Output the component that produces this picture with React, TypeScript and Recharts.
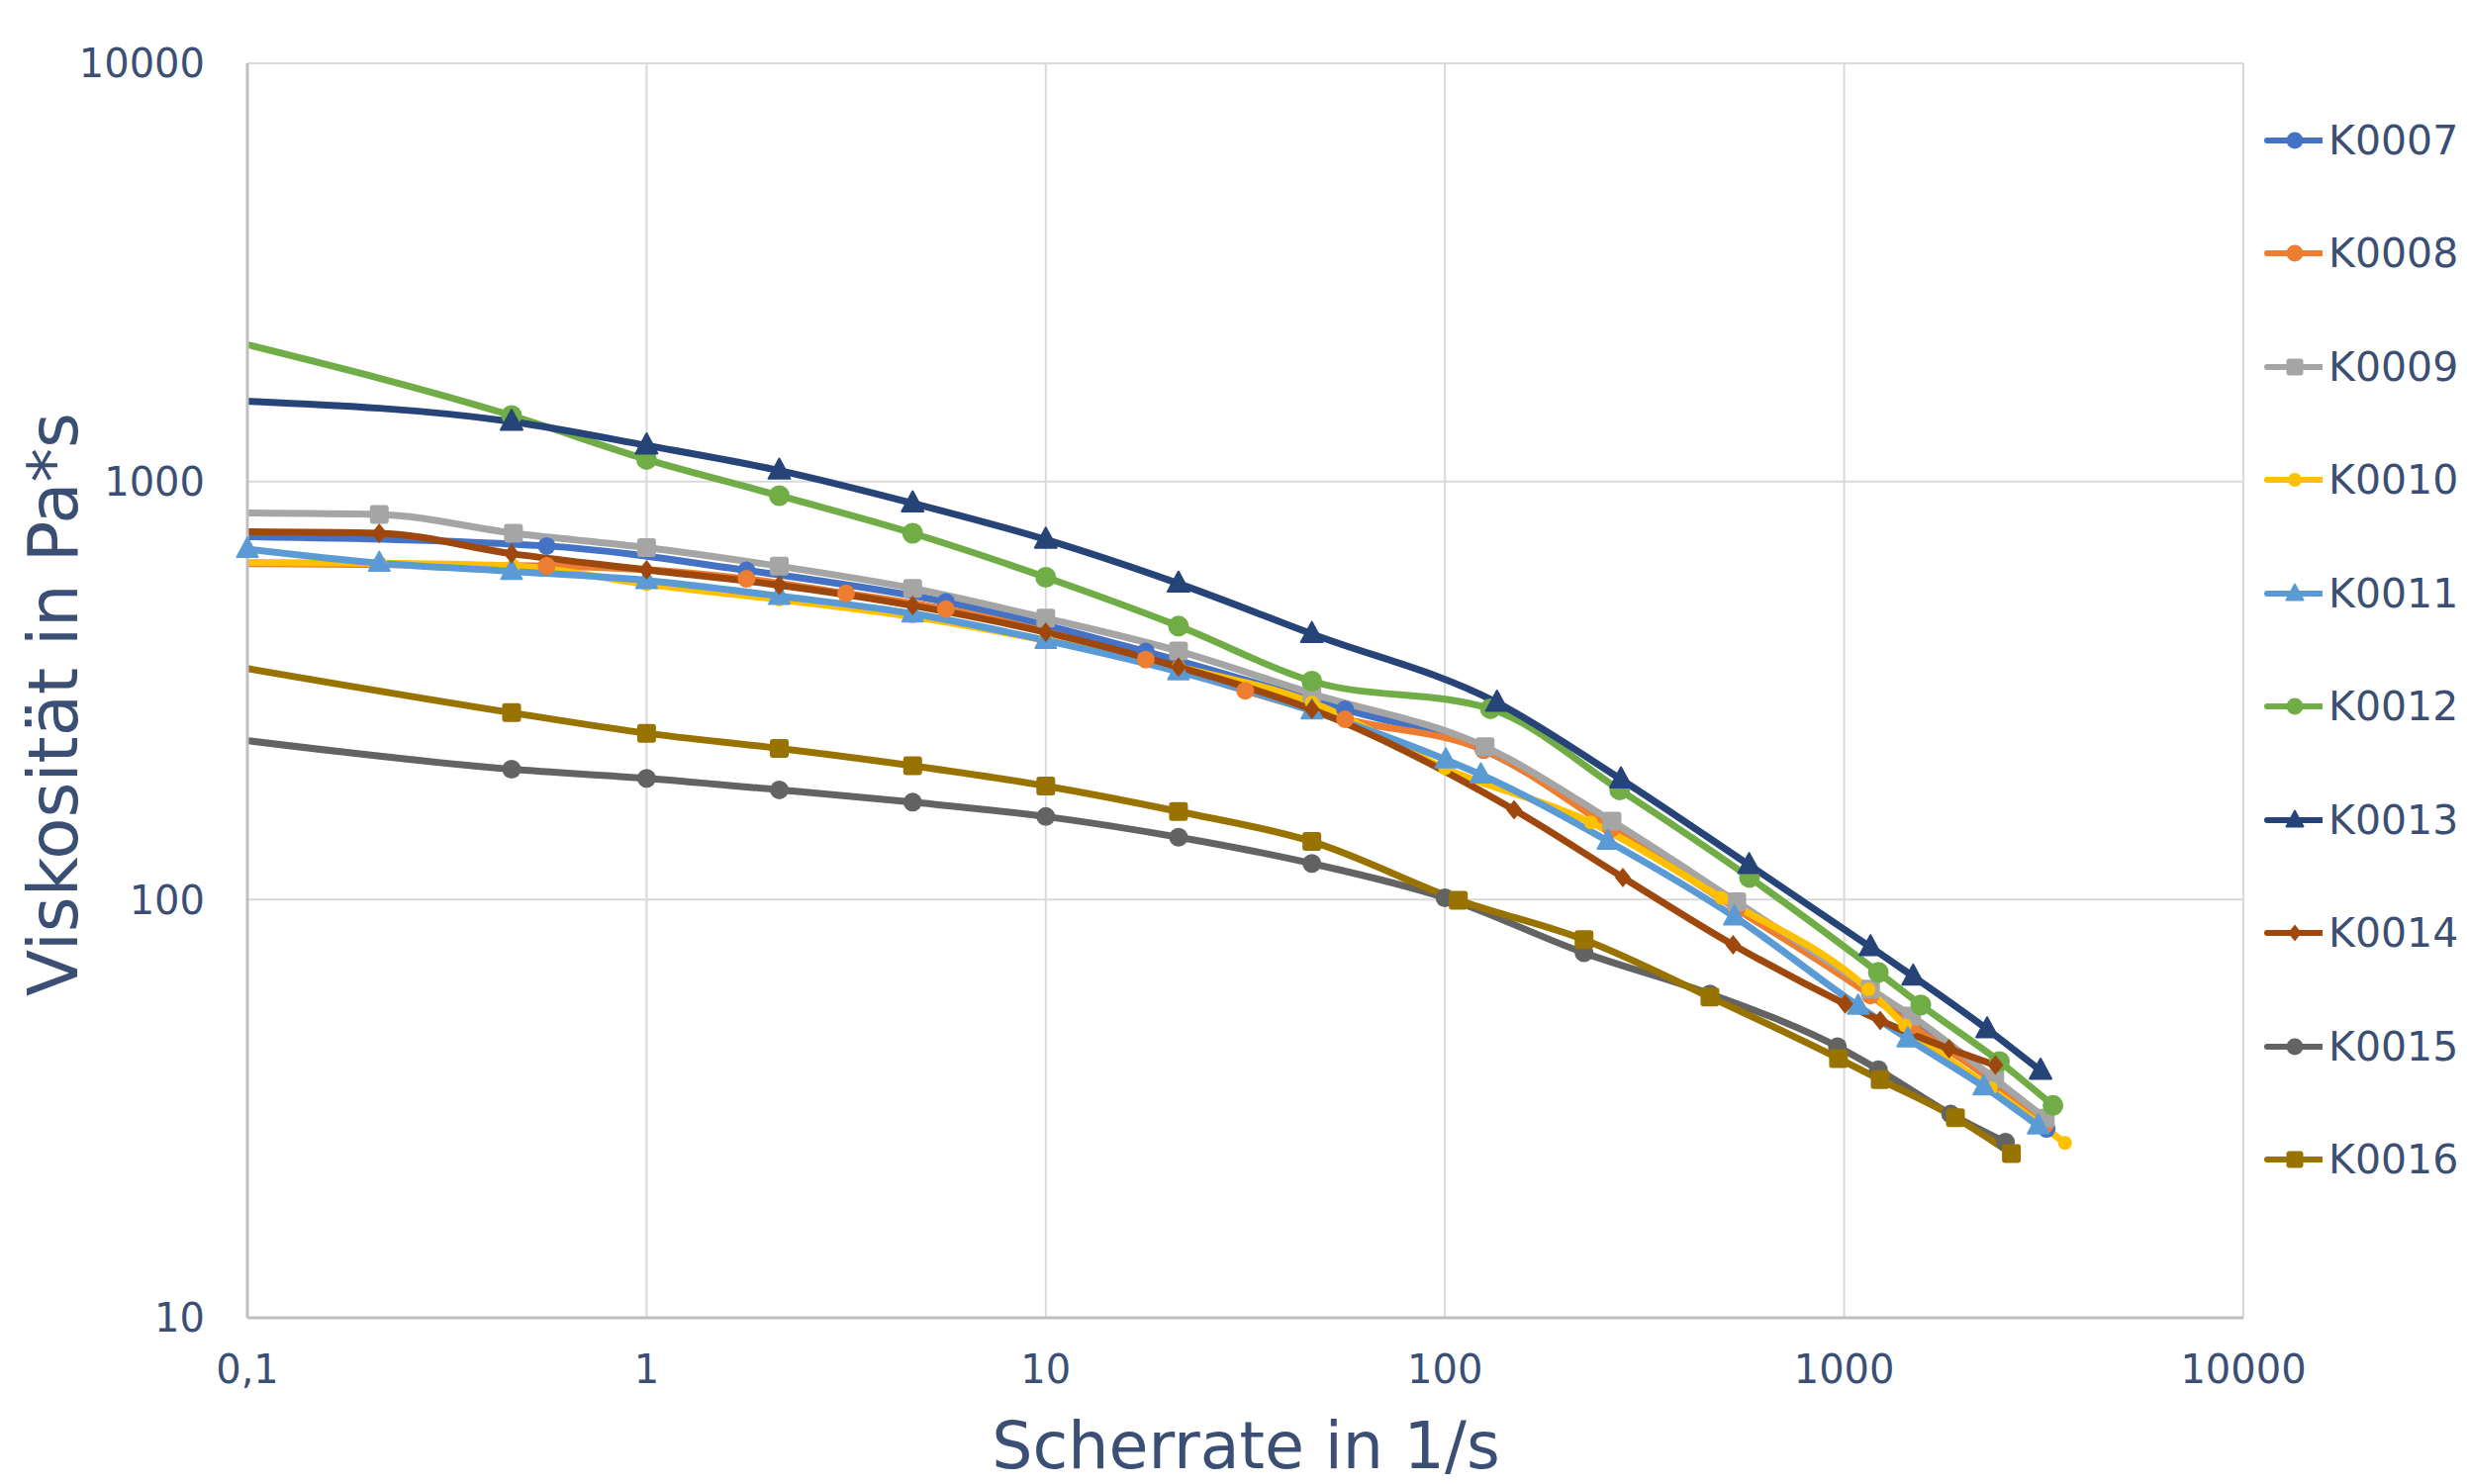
import React from 'react';
import { LineChart, Line, XAxis, YAxis, CartesianGrid, Legend, Label } from 'recharts';

// axis ticks
const xTicks = [0.1, 1, 10, 100, 1000, 10000];
const yTicks = [10, 100, 1000, 10000];

// shear rate (1/s) and viscosity (Pa*s) per sample
const k0007X = [0.1, 0.562, 1.78, 5.62, 17.8, 56.2, 125, 262, 538, 1164, 1475, 2383, 3215];
const k0007Y = [738, 701, 613, 515, 392, 285, 228, 150, 96, 60, 50.5, 36.5, 28.3];

const k0008X = [0.1, 0.562, 1.78, 3.16, 5.62, 17.8, 31.6, 56.2, 125, 261, 538, 1164, 1475, 2383, 3190];
const k0008Y = [636, 628, 585, 540, 495, 375, 316, 270, 228, 148, 95, 59, 50, 36.5, 29];

const k0009X = [0.1, 0.214, 0.464, 1, 2.15, 4.64, 10, 21.5, 46.4, 126, 262, 538, 1164, 1475, 2383, 3190];
const k0009Y = [841, 834, 752, 695, 627, 555, 471, 393, 311, 232, 154, 98.8, 61.1, 52.7, 37.3, 30];

const k0010X = [0.1, 0.215, 0.464, 1, 2.15, 4.64, 10, 21.5, 46.4, 100, 232, 492, 1150, 1420, 2330, 3574];
const k0010Y = [640, 638, 628, 568, 522, 475, 417, 360, 296, 206, 153, 101, 61, 50, 35.4, 26.2];

const k0011X = [0.1, 0.214, 0.459, 1, 2.15, 4.64, 10, 21.5, 46.4, 100.5, 123, 256, 531, 1084, 1443, 2238, 3062];
const k0011Y = [689, 638, 610, 580, 532, 483, 417, 351, 283, 216, 199, 138, 91, 55.7, 46.5, 35.7, 28.8];

const k0012X = [0.1, 0.459, 1, 2.15, 4.64, 10, 21.5, 46.4, 130, 274, 579, 1218, 1556, 2449, 3335];
const k0012Y = [2124, 1438, 1129, 925, 752, 590, 451, 333, 286, 183, 113, 67, 56, 41, 32.2];

const k0013X = [0.1, 0.459, 1, 2.15, 4.64, 10, 21.5, 46.4, 135, 276, 578, 1164, 1489, 2281, 3105];
const k0013Y = [1556, 1390, 1220, 1062, 887, 726, 570, 432, 296, 194, 121, 77, 65.5, 49, 39];

const k0014X = [0.1, 0.214, 0.459, 1, 2.15, 4.64, 10, 21.5, 46.4, 149, 279, 527, 1006, 1231, 1832, 2393];
const k0014Y = [758, 752, 672, 615, 565, 505, 436, 360, 285, 164, 113, 78, 56.3, 51.4, 44, 40.2];

const k0015X = [0.1, 0.459, 1, 2.15, 4.64, 10, 21.5, 46.4, 100, 223, 461, 962, 1218, 1848, 2536];
const k0015Y = [240, 205, 195, 183, 171, 158, 141, 122, 101, 74.6, 59.5, 44.5, 39.2, 30.7, 26.3];

const k0016X = [0.1, 0.459, 1, 2.15, 4.64, 10, 21.5, 46.4, 108, 223, 461, 968, 1231, 1900, 2624];
const k0016Y = [357, 280, 250, 230, 209, 187, 162.5, 137.7, 99.7, 80.2, 58.5, 41.7, 37.1, 30.1, 24.7];

type Shape = 'circle' | 'square' | 'triangle' | 'diamond';

const series: { name: string; color: string; shape: Shape; size: number; firstDot: boolean; x: number[]; y: number[] }[] = [
  { name: 'K0007', color: '#4472C4', shape: 'circle', size: 18, firstDot: false, x: k0007X, y: k0007Y },
  { name: 'K0008', color: '#ED7D31', shape: 'circle', size: 18, firstDot: false, x: k0008X, y: k0008Y },
  { name: 'K0009', color: '#A5A5A5', shape: 'square', size: 19, firstDot: false, x: k0009X, y: k0009Y },
  { name: 'K0010', color: '#FFC000', shape: 'circle', size: 14, firstDot: false, x: k0010X, y: k0010Y },
  { name: 'K0011', color: '#5B9BD5', shape: 'triangle', size: 21, firstDot: true, x: k0011X, y: k0011Y },
  { name: 'K0012', color: '#70AD47', shape: 'circle', size: 21, firstDot: false, x: k0012X, y: k0012Y },
  { name: 'K0013', color: '#264478', shape: 'triangle', size: 22, firstDot: false, x: k0013X, y: k0013Y },
  { name: 'K0014', color: '#9E480E', shape: 'diamond', size: 20, firstDot: false, x: k0014X, y: k0014Y },
  { name: 'K0015', color: '#636363', shape: 'circle', size: 19, firstDot: false, x: k0015X, y: k0015Y },
  { name: 'K0016', color: '#997300', shape: 'square', size: 19, firstDot: false, x: k0016X, y: k0016Y },
];

const textColor = '#3B4F74';
const font = '"DejaVu Sans", Verdana, sans-serif';

const Marker = ({ cx, cy, shape, size, color }: { cx: number; cy: number; shape: Shape; size: number; color: string }) => {
  const r = size / 2;
  if (shape === 'square') {
    return <rect x={cx - r} y={cy - r} width={size} height={size} rx={3} fill={color} />;
  }
  if (shape === 'triangle') {
    return <polygon points={`${cx},${cy - r * 1.1} ${cx + r},${cy + r * 0.75} ${cx - r},${cy + r * 0.75}`} fill={color} stroke={color} strokeWidth={2} strokeLinejoin="round" />;
  }
  if (shape === 'diamond') {
    return <polygon points={`${cx},${cy - r} ${cx + r * 0.8},${cy} ${cx},${cy + r} ${cx - r * 0.8},${cy}`} fill={color} />;
  }
  return <circle cx={cx} cy={cy} r={r} fill={color} />;
};

const LegendBox = () => (
  <div style={{ fontFamily: font }}>
    {series.map((s) => (
      <div key={s.name} style={{ height: 114.5, display: 'flex', alignItems: 'center', whiteSpace: 'nowrap' }}>
        <svg width={62} height={26}>
          <line x1={6} y1={13} x2={62} y2={13} stroke={s.color} strokeWidth={6} strokeLinecap="round" />
          <Marker cx={34} cy={13} shape={s.shape} size={Math.min(s.size, 17)} color={s.color} />
        </svg>
        <span style={{ fontSize: 41, color: textColor, marginLeft: 6 }}>{s.name}</span>
      </div>
    ))}
  </div>
);

const App: React.FC = () => {
  return (
    <div style={{ position: 'absolute', left: 0, top: 0, fontFamily: font, background: '#fff' }}>
      <LineChart width={2493} height={1500} margin={{ top: 64, right: 226, bottom: 0, left: 0 }}>
        <CartesianGrid stroke="#D9D9D9" strokeWidth={2} />
        <XAxis
          type="number"
          dataKey="x"
          scale="log"
          domain={[0.1, 10000]}
          ticks={xTicks}
          interval={0}
          height={168}
          tickLine={false}
          tickSize={0}
          tickMargin={38}
          axisLine={{ stroke: '#BFBFBF', strokeWidth: 3 }}
          tick={{ fill: textColor, fontSize: 40 }}
          tickFormatter={(v) => String(v).replace('.', ',')}
        >
          <Label
            content={() => (
              <text x={1259} y={1484} textAnchor="middle" fill={textColor} fontSize={65}>
                Scherrate in 1/s
              </text>
            )}
          />
        </XAxis>
        <YAxis
          type="number"
          scale="log"
          domain={[10, 10000]}
          ticks={yTicks}
          interval={0}
          width={250}
          tickLine={false}
          tickSize={0}
          tickMargin={43}
          axisLine={{ stroke: '#BFBFBF', strokeWidth: 3 }}
          tick={{ fill: textColor, fontSize: 40 }}
        >
          <Label
            content={() => (
              <text x={54} y={712} transform="rotate(-90 54 712)" textAnchor="middle" dominantBaseline="central" fill={textColor} fontSize={69}>
                Viskosität in Pa*s
              </text>
            )}
          />
        </YAxis>
        <Legend
          layout="vertical"
          align="center"
          verticalAlign="middle"
          wrapperStyle={{ left: 2285, top: 84.5, width: 208 }}
          content={() => <LegendBox />}
        />
        {series.map((s) => (
          <Line
            key={s.name}
            name={s.name}
            data={s.x.map((x, i) => ({ x, y: s.y[i] }))}
            dataKey="y"
            type="monotone"
            stroke={s.color}
            strokeWidth={7}
            isAnimationActive={false}
            activeDot={false}
            dot={(p: any) =>
              p.index === 0 && !s.firstDot ? (
                <g key={`${s.name}-${p.index}`} />
              ) : (
                <Marker key={`${s.name}-${p.index}`} cx={p.cx} cy={p.cy} shape={s.shape} size={s.size} color={s.color} />
              )
            }
          />
        ))}
      </LineChart>
    </div>
  );
};

export default App;
